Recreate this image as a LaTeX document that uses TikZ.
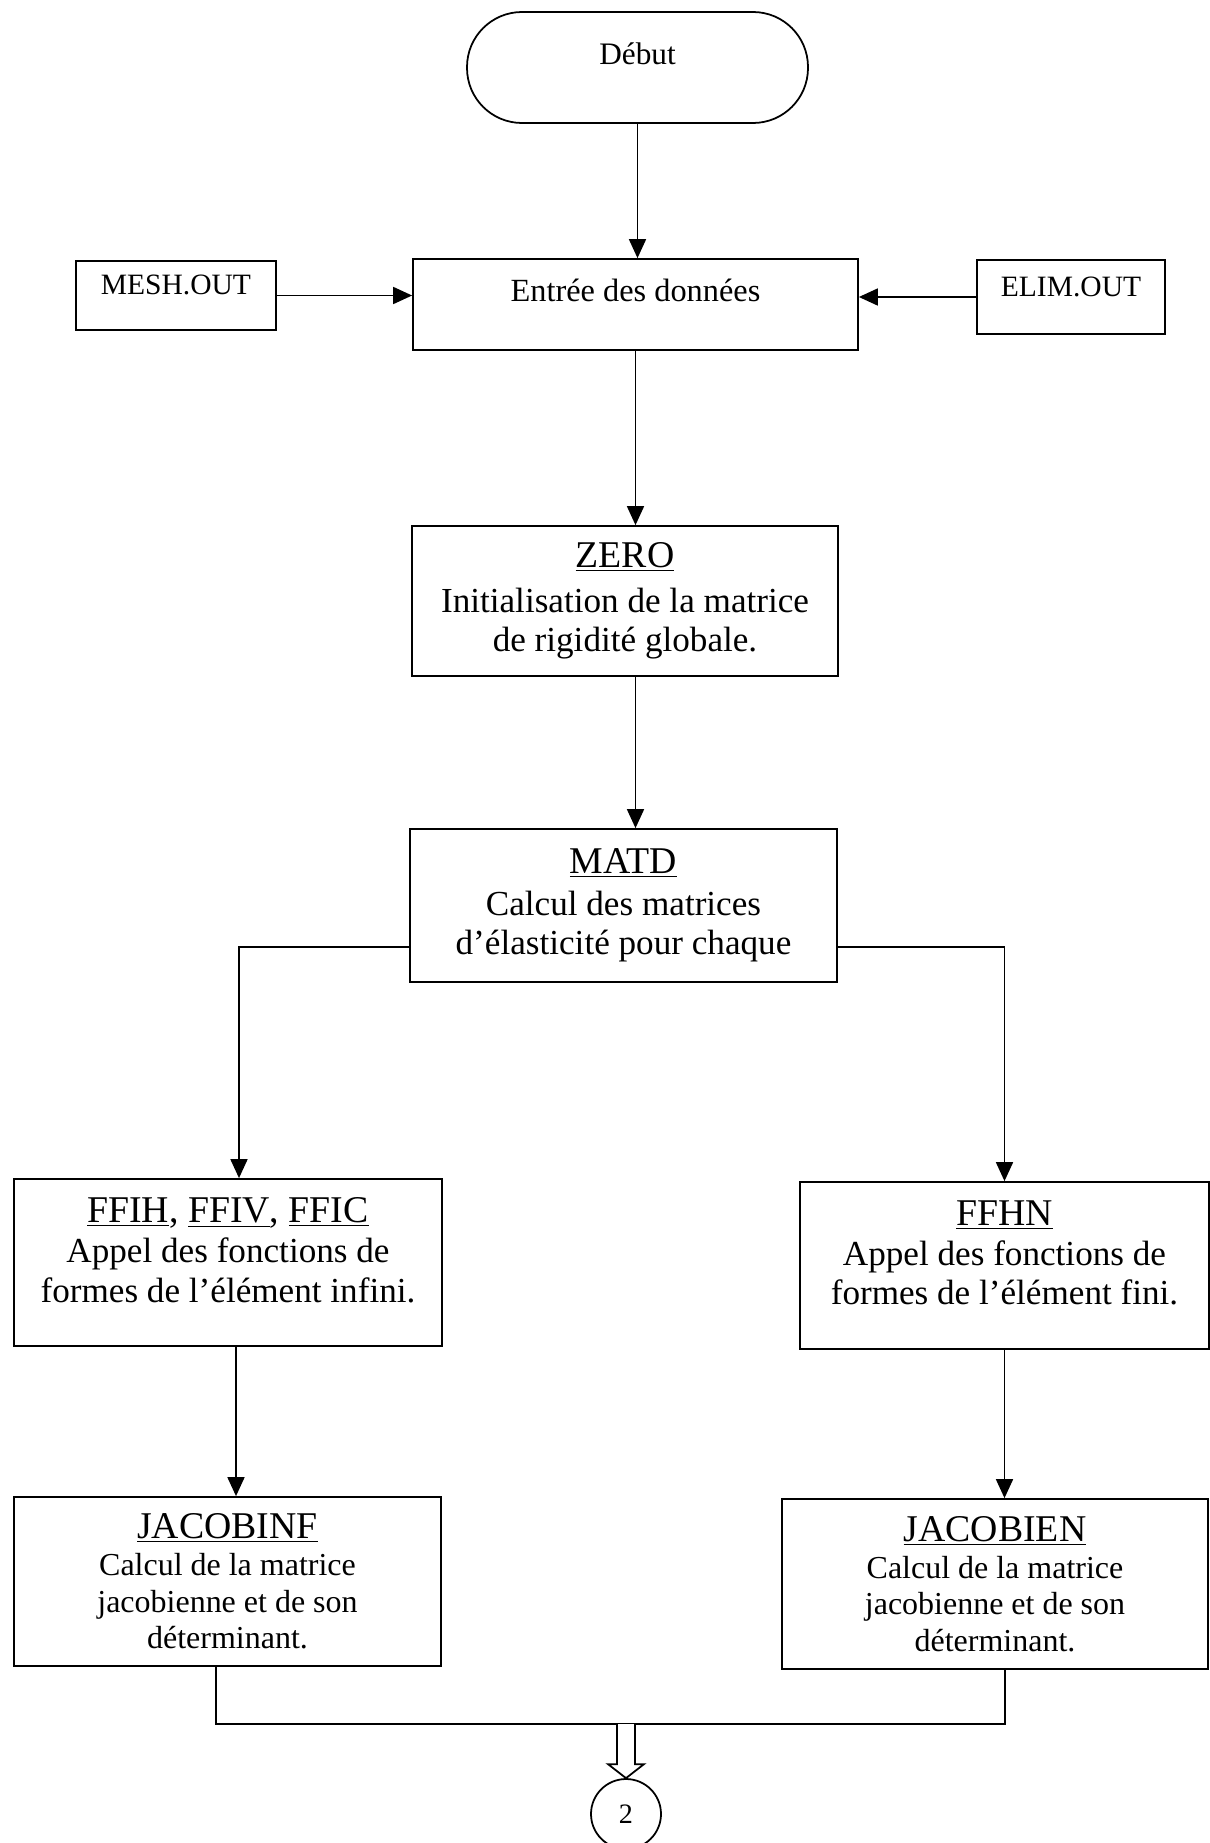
\documentclass[tikz,border=0pt]{standalone}
\usepackage{fontspec}
\setmainfont{Liberation Serif}
\usetikzlibrary{arrows.meta,calc}
\newcommand{\grand}{\fontsize{21.5}{24}\selectfont}
\newcommand{\titre}[1]{{\grand\underline{#1}}}

\begin{document}
\begin{tikzpicture}[line width=1pt,
                    boite/.style={draw,align=center,inner sep=2pt,font=\fontsize{20}{22.5}\selectfont},
                    petite/.style={boite,font=\fontsize{18.2}{20.8}\selectfont},
                    fichier/.style={draw,text depth=0.42cm,font=\fontsize{16.8}{19}\selectfont},
                    fleche/.style={-{Triangle[length=0.38cm,width=0.34cm]}}]
  \useasboundingbox (0,0) rectangle (24.2,-36.86);
  \node[draw,rounded corners=1.1cm,minimum width=6.82cm,minimum height=2.22cm,
        text depth=0.54cm,font=\fontsize{17.8}{20}\selectfont] (debut) at (12.75,-1.35) {Début};
  \node[boite,minimum width=8.9cm,minimum height=1.82cm,text depth=0.56cm,
        font=\fontsize{18.4}{21}\selectfont] (entree) at (12.71,-6.09) {Entrée des données};
  \node[fichier,minimum width=4cm,minimum height=1.38cm] (mesh) at (3.52,-5.91) {MESH.OUT};
  \node[fichier,minimum width=3.76cm,minimum height=1.48cm] (elim) at (21.42,-5.94) {ELIM.OUT};
  \node[boite,minimum width=8.52cm,minimum height=3cm] (zero) at (12.5,-12.02)
    {\titre{ZERO}\\[3pt]Initialisation de la matrice\\de rigidité globale.};
  \node[boite,minimum width=8.54cm,minimum height=3.06cm] (matd) at (12.47,-18.11)
    {\titre{MATD}\\[1pt]Calcul des matrices\\d’élasticité pour chaque};
  \node[boite,minimum width=8.56cm,minimum height=3.34cm,text depth=0.5cm] (ffih) at (4.56,-25.25)
    {{\grand\underline{FFIH}, \underline{FFIV}, \underline{FFIC}}\\Appel des fonctions de\\formes de l’élément infini.};
  \node[boite,minimum width=8.18cm,minimum height=3.34cm,text depth=0.5cm] (ffhn) at (20.09,-25.31)
    {\titre{FFHN}\\Appel des fonctions de\\formes de l’élément fini.};
  \node[petite,minimum width=8.54cm,minimum height=3.38cm] (jacinf) at (4.55,-31.63)
    {\titre{JACOBINF}\\Calcul de la matrice\\jacobienne et de son\\déterminant.};
  \node[petite,minimum width=8.52cm,minimum height=3.4cm] (jacbien) at (19.9,-31.68)
    {\titre{JACOBIEN}\\Calcul de la matrice\\jacobienne et de son\\déterminant.};
  \node[draw,circle,minimum size=1.4cm,inner sep=0pt,font=\fontsize{16}{18}\selectfont] (renvoi) at (12.52,-36.28) {2};

  \draw[fleche] (debut.south) -- (debut.south |- entree.north);
  \draw[fleche] (mesh.east) -- (mesh.east -| entree.west);
  \draw[fleche] (elim.west) -- (elim.west -| entree.east);
  \draw[fleche] (entree.south) -- (entree.south |- zero.north);
  \draw[fleche] (entree.south |- zero.south) -- (entree.south |- matd.north);
  \coordinate (gauche) at ([yshift=-0.83cm]matd.west);
  \coordinate (droite) at ([yshift=-0.83cm]matd.east);
  \draw[fleche] (gauche) -| ([xshift=0.22cm]ffih.north);
  \draw[fleche] (droite) -| (ffhn.north);
  \draw[fleche] ([xshift=0.16cm]ffih.south) -- ([xshift=0.16cm]ffih.south |- jacinf.north);
  \draw[fleche] (ffhn.south) -- (ffhn.south |- jacbien.north);
  \coordinate (bas) at (12.52,-34.48);
  \draw ([xshift=-0.23cm]jacinf.south) |- (bas) -| ([xshift=0.2cm]jacbien.south);
  \draw[fill=white] ($(bas)+(-0.18,0)$) -- ($(renvoi.north)+(-0.18,0.28)$) -- ($(renvoi.north)+(-0.36,0.28)$)
    -- (renvoi.north) -- ($(renvoi.north)+(0.36,0.28)$) -- ($(renvoi.north)+(0.18,0.28)$) -- ($(bas)+(0.18,0)$);
\end{tikzpicture}
\end{document}
